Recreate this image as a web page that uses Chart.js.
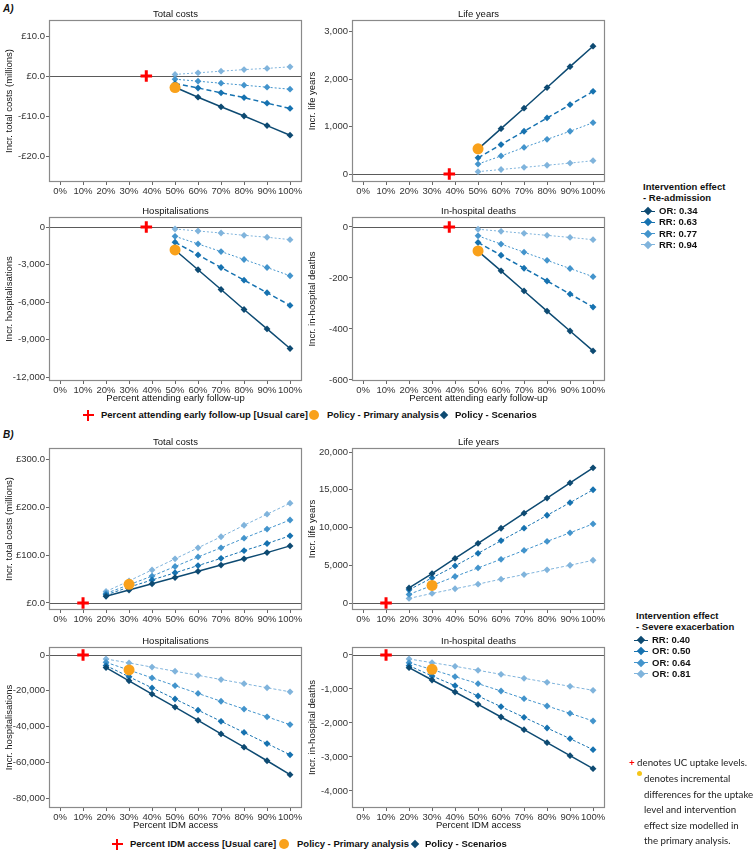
<!DOCTYPE html>
<html>
<head>
<meta charset="utf-8">
<script src="https://cdn.jsdelivr.net/npm/chart.js@4.4.1/dist/chart.umd.min.js"></script>
<style>
body { margin:0; background:#fff; width:753px; height:851px; position:relative; overflow:hidden;
       font-family:"Liberation Sans", Arial, sans-serif; color:#111; }
canvas { position:absolute; }
.tag { position:absolute; left:3px; font-size:10px; font-weight:bold; font-style:italic; line-height:12px; }
.lg { position:absolute; font-size:9.5px; font-weight:bold; white-space:nowrap; line-height:12px; }
.plus { position:absolute; width:11px; height:11px; }
.plus:before, .plus:after { content:""; position:absolute; background:#ff0000; }
.plus:before { left:0; top:4.2px; width:11px; height:2.6px; }
.plus:after { left:4.2px; top:0; width:2.6px; height:11px; }
.dot { position:absolute; width:10px; height:10px; border-radius:50%; background:#f9a11b; }
.dia { position:absolute; width:6px; height:6px; transform:rotate(45deg); }
.key { position:absolute; width:14px; height:1px; }
.note { position:absolute; font-family:Lato, "Open Sans", sans-serif; font-size:9.7px; line-height:15.6px; color:#222; white-space:nowrap; }
</style>
</head>
<body>
<div class="tag" style="top:3px">A)</div>
<div class="tag" style="top:429px">B)</div>
<div id="root"></div>

<script>
// uptake levels (percent) on the x axis
const uptakeA = [50, 60, 70, 80, 90, 100];
const uptakeB = [20, 30, 40, 50, 60, 70, 80, 90, 100];
const xTicks = [0, 10, 20, 30, 40, 50, 60, 70, 80, 90, 100];
const usualCareA = 37.5, primaryUptakeA = 50;
const usualCareB = 10, primaryUptakeB = 30;

const effectLabelsA = ['OR: 0.34', 'RR: 0.63', 'RR: 0.77', 'RR: 0.94'];
const effectLabelsB = ['RR: 0.40', 'OR: 0.50', 'OR: 0.64', 'OR: 0.81'];

// A) Re-admission, one row per intervention effect
const costsA = [
  [-2.8, -5.3, -7.7, -10.0, -12.4, -14.8],
  [-1.9, -3.0, -4.2, -5.4, -6.8, -8.1],
  [-0.8, -1.3, -1.8, -2.3, -2.8, -3.3],
  [0.4, 0.8, 1.2, 1.6, 1.9, 2.3]
];
const lifeA = [
  [525, 955, 1385, 1820, 2260, 2690],
  [340, 620, 900, 1180, 1460, 1740],
  [210, 380, 560, 730, 900, 1080],
  [50, 95, 140, 185, 230, 280]
];
const hospA = [
  [-1840, -3420, -5000, -6600, -8150, -9720],
  [-1220, -2230, -3240, -4250, -5260, -6270],
  [-745, -1355, -1965, -2600, -3240, -3900],
  [-160, -320, -480, -665, -820, -1010]
];
const deathsA = [
  [-95, -172, -251, -330, -408, -486],
  [-61, -111, -162, -212, -263, -314],
  [-35, -67, -99, -131, -163, -195],
  [-9, -17, -25, -33, -41, -50]
];
const primaryA = [-2.9, 530, -1830, -94];

// B) Severe exacerbation
const costsB = [
  [14, 27, 40, 53, 66, 79, 92, 105, 119],
  [17, 33, 48, 63, 78, 93, 109, 124, 140],
  [20, 38, 56, 76, 96, 115, 135, 154, 173],
  [24, 46, 69, 92, 115, 138, 162, 185, 208]
];
const lifeB = [
  [2000, 3900, 5900, 7900, 9900, 11900, 13900, 15900, 17900],
  [1750, 3330, 4910, 6580, 8250, 9910, 11620, 13290, 15000],
  [1140, 2320, 3510, 4650, 5790, 6970, 8160, 9300, 10480],
  [610, 1270, 1890, 2500, 3160, 3770, 4390, 5000, 5660]
];
const hospB = [
  [-7040, -14440, -21850, -29070, -36480, -44070, -51480, -59070, -66850],
  [-5930, -12150, -18370, -24590, -30810, -37040, -43260, -49480, -55740],
  [-4100, -8430, -12780, -17130, -21480, -25830, -30190, -34540, -38890],
  [-2220, -4440, -6760, -9070, -11370, -13700, -16000, -18300, -20560]
];
const deathsB = [
  [-373, -735, -1088, -1451, -1824, -2196, -2578, -2961, -3343],
  [-314, -618, -902, -1206, -1520, -1833, -2147, -2461, -2784],
  [-225, -430, -637, -843, -1059, -1284, -1500, -1716, -1941],
  [-118, -225, -333, -451, -569, -686, -804, -922, -1039]
];
const primaryB = [39, 2320, -8330, -422];

// y tick values
const ticksCostsA = [-20, -10, 0, 10];
const ticksLifeA = [0, 1000, 2000, 3000];
const ticksHospA = [-12000, -9000, -6000, -3000, 0];
const ticksDeathsA = [-600, -400, -200, 0];
const ticksCostsB = [0, 100, 200, 300];
const ticksLifeB = [0, 5000, 10000, 15000, 20000];
const ticksHospB = [-80000, -60000, -40000, -20000, 0];
const ticksDeathsB = [-4000, -3000, -2000, -1000, 0];

// styles
const blues = ['#0d4a72', '#1672b0', '#4394cc', '#80b4dc'];
const styleA = [{w: 1.5, dash: []}, {w: 1.5, dash: [5, 3]}, {w: 1, dash: [2, 2]}, {w: 1, dash: [2, 2]}];
const styleB = [{w: 1.5, dash: []}, {w: 1, dash: [3, 2]}, {w: 1, dash: [3, 2]}, {w: 1, dash: [3, 2]}];
const FONT = '"Liberation Sans", Arial, sans-serif';

const money = v => (v < 0 ? '-' : '') + '£' + Math.abs(v).toFixed(1);
const count = v => v.toLocaleString('en-US');

const panels = [
  {col: 0, box: {l: 49, t: 20, r: 302, b: 182}, yr: [-26.5, 14], yt: ticksCostsA, fmt: money,
   title: 'Total costs', yTitle: 'Incr. total costs (millions)', xTitle: null,
   xs: uptakeA, series: costsA, uc: usualCareA, px: primaryUptakeA, py: primaryA[0], style: styleA},
  {col: 1, box: {l: 352, t: 20, r: 605, b: 182}, yr: [-168, 3242], yt: ticksLifeA, fmt: count,
   title: 'Life years', yTitle: 'Incr. life years', xTitle: null,
   xs: uptakeA, series: lifeA, uc: usualCareA, px: primaryUptakeA, py: primaryA[1], style: styleA},
  {col: 0, box: {l: 49, t: 217, r: 302, b: 381}, yr: [-12320, 800], yt: ticksHospA, fmt: count,
   title: 'Hospitalisations', yTitle: 'Incr. hospitalisations', xTitle: 'Percent attending early follow-up',
   xs: uptakeA, series: hospA, uc: usualCareA, px: primaryUptakeA, py: primaryA[2], style: styleA},
  {col: 1, box: {l: 352, t: 217, r: 605, b: 381}, yr: [-604, 39], yt: ticksDeathsA, fmt: count,
   title: 'In-hospital deaths', yTitle: 'Incr. in-hospital deaths', xTitle: 'Percent attending early follow-up',
   xs: uptakeA, series: deathsA, uc: usualCareA, px: primaryUptakeA, py: primaryA[3], style: styleA},
  {col: 0, box: {l: 49, t: 448, r: 302, b: 610}, yr: [-14.6, 323], yt: ticksCostsB, fmt: money,
   title: 'Total costs', yTitle: 'Incr. total costs (millions)', xTitle: null,
   xs: uptakeB, series: costsB, uc: usualCareB, px: primaryUptakeB, py: primaryB[0], style: styleB},
  {col: 1, box: {l: 352, t: 448, r: 605, b: 610}, yr: [-927, 20530], yt: ticksLifeB, fmt: count,
   title: 'Life years', yTitle: 'Incr. life years', xTitle: null,
   xs: uptakeB, series: lifeB, uc: usualCareB, px: primaryUptakeB, py: primaryB[1], style: styleB},
  {col: 0, box: {l: 49, t: 647, r: 302, b: 808}, yr: [-85470, 4470], yt: ticksHospB, fmt: count,
   title: 'Hospitalisations', yTitle: 'Incr. hospitalisations', xTitle: 'Percent IDM access',
   xs: uptakeB, series: hospB, uc: usualCareB, px: primaryUptakeB, py: primaryB[2], style: styleB},
  {col: 1, box: {l: 352, t: 647, r: 605, b: 808}, yr: [-4500, 235], yt: ticksDeathsB, fmt: count,
   title: 'In-hospital deaths', yTitle: 'Incr. in-hospital deaths', xTitle: 'Percent IDM access',
   xs: uptakeB, series: deathsB, uc: usualCareB, px: primaryUptakeB, py: primaryB[3], style: styleB}
];

// panel frame, zero line and panel title
const framePlugin = {
  id: 'frame',
  beforeDatasetsDraw(chart) {
    const {ctx, chartArea: a} = chart;
    const y0 = Math.round(chart.scales.y.getPixelForValue(0)) + 0.5;
    ctx.save();
    ctx.strokeStyle = '#5a5a5a';
    ctx.lineWidth = 1;
    ctx.beginPath(); ctx.moveTo(a.left, y0); ctx.lineTo(a.right, y0); ctx.stroke();
    ctx.restore();
  },
  afterDraw(chart, args, opts) {
    const {ctx, chartArea: a} = chart;
    ctx.save();
    ctx.strokeStyle = '#8a8a8a';
    ctx.lineWidth = 1.2;
    ctx.strokeRect(a.left + 0.5, a.top + 0.5, a.right - a.left - 1, a.bottom - a.top - 1);
    ctx.fillStyle = '#111';
    ctx.font = '9.5px ' + FONT;
    ctx.textAlign = 'center';
    ctx.textBaseline = 'middle';
    ctx.fillText(opts.title, (a.left + a.right) / 2, a.top - 5.5);
    ctx.restore();
  }
};

const root = document.getElementById('root');

panels.forEach(p => {
  const left = p.col ? 303 : 0;
  const top = p.box.t - 18;
  const xAxisH = p.xTitle ? 23 : 14;
  const w = p.box.r + 6 - left;
  const h = p.box.b + xAxisH - top;
  const cv = document.createElement('canvas');
  cv.width = w; cv.height = h;
  cv.style.left = left + 'px'; cv.style.top = top + 'px';
  root.appendChild(cv);

  const datasets = [
    {data: [{x: p.uc, y: 0}], showLine: false, pointStyle: 'cross', pointRadius: 5.8,
     pointBorderColor: '#ff0000', pointBorderWidth: 3, borderColor: '#ff0000'},
    {data: [{x: p.px, y: p.py}], showLine: false, pointStyle: 'circle', pointRadius: 5.5,
     pointBackgroundColor: '#f9a11b', pointBorderColor: '#f9a11b', pointBorderWidth: 0}
  ];
  p.series.forEach((vals, i) => {
    datasets.push({
      data: p.xs.map((x, j) => ({x: x, y: vals[j]})),
      borderColor: blues[i], backgroundColor: blues[i],
      borderWidth: p.style[i].w, borderDash: p.style[i].dash,
      pointStyle: 'rectRot', pointRadius: 3.4, pointBorderWidth: 0,
      pointBackgroundColor: blues[i], tension: 0, fill: false
    });
  });

  new Chart(cv.getContext('2d'), {
    type: 'line',
    data: {datasets: datasets},
    plugins: [framePlugin],
    options: {
      responsive: false, animation: false, devicePixelRatio: 1,
      layout: {padding: {left: 4, top: 18, right: 6, bottom: 0}, autoPadding: false},
      plugins: {legend: {display: false}, tooltip: {enabled: false}, frame: {title: p.title}},
      scales: {
        x: {
          type: 'linear', min: -4.8, max: 105.2,
          afterBuildTicks: s => { s.ticks = xTicks.map(v => ({value: v})); },
          afterFit: s => { s.height = xAxisH; },
          grid: {drawOnChartArea: false, drawTicks: true, tickLength: 3, color: '#666'},
          border: {display: false},
          ticks: {padding: 1, color: '#333', font: {family: FONT, size: 9.5}, maxRotation: 0,
                  autoSkip: false, callback: v => v + '%'},
          title: {display: !!p.xTitle, text: p.xTitle || '', color: '#111',
                  font: {family: FONT, size: 9.5}, padding: {top: 0, bottom: 0}}
        },
        y: {
          type: 'linear', min: p.yr[0], max: p.yr[1],
          afterBuildTicks: s => { s.ticks = p.yt.map(v => ({value: v})); },
          afterFit: s => { s.width = p.box.l - left - 4; },
          grid: {drawOnChartArea: false, drawTicks: true, tickLength: 3, color: '#666'},
          border: {display: false},
          ticks: {padding: 1, color: '#333', font: {family: FONT, size: 9.5}, autoSkip: false,
                  callback: v => p.fmt(v)},
          title: {display: true, text: p.yTitle, color: '#111',
                  font: {family: FONT, size: 9.5}, padding: {top: 0, bottom: 0}}
        }
      }
    }
  });
});

// legends built from the label arrays
function html(s) { root.insertAdjacentHTML('beforeend', s); }

function bottomLegend(y, pos, ucText) {
  html('<div class="plus" style="left:' + (pos[0] - 5.5) + 'px;top:' + (y - 5.5) + 'px"></div>');
  html('<div class="lg" style="left:' + pos[1] + 'px;top:' + (y - 6) + 'px">' + ucText + '</div>');
  html('<div class="dot" style="left:' + (pos[2] - 5) + 'px;top:' + (y - 5) + 'px"></div>');
  html('<div class="lg" style="left:' + pos[3] + 'px;top:' + (y - 6) + 'px">Policy - Primary analysis</div>');
  html('<div class="dia" style="left:' + (pos[4] - 3) + 'px;top:' + (y - 3) + 'px;background:' + blues[0] + '"></div>');
  html('<div class="lg" style="left:' + pos[5] + 'px;top:' + (y - 6) + 'px">Policy - Scenarios</div>');
}
bottomLegend(415, [88, 101, 314, 327, 444, 455], 'Percent attending early follow-up [Usual care]');
bottomLegend(844, [117, 130, 284, 297, 415, 425], 'Percent IDM access [Usual care]');

function sideLegend(x, y, sub, labels) {
  html('<div class="lg" style="left:' + x + 'px;top:' + (y - 6) + 'px">Intervention effect</div>');
  html('<div class="lg" style="left:' + x + 'px;top:' + (y + 5) + 'px">' + sub + '</div>');
  labels.forEach((lab, i) => {
    const cy = y + 24 + i * 11.3;
    html('<div class="key" style="left:' + (x - 2) + 'px;top:' + (cy - 0.5) + 'px;background:' + blues[i] + '"></div>');
    html('<div class="dia" style="left:' + (x + 2) + 'px;top:' + (cy - 3) + 'px;background:' + blues[i] + '"></div>');
    html('<div class="lg" style="left:' + (x + 16) + 'px;top:' + (cy - 6) + 'px">' + lab + '</div>');
  });
}
sideLegend(643, 187, '- Re-admission', effectLabelsA);
sideLegend(636, 616, '- Severe exacerbation', effectLabelsB);

// footnote
html('<div class="note" style="left:629px;top:755px"><span style="color:#ff0000;font-weight:bold">+</span> denotes UC uptake levels.</div>');
html('<div class="dot" style="left:637px;top:771px;width:5px;height:5px;background:#f5c518"></div>');
html('<div class="note" style="left:644px;top:771px">denotes incremental<br>differences for the uptake<br>level and intervention<br>effect size modelled in<br>the primary analysis.</div>');
</script>
</body>
</html>
